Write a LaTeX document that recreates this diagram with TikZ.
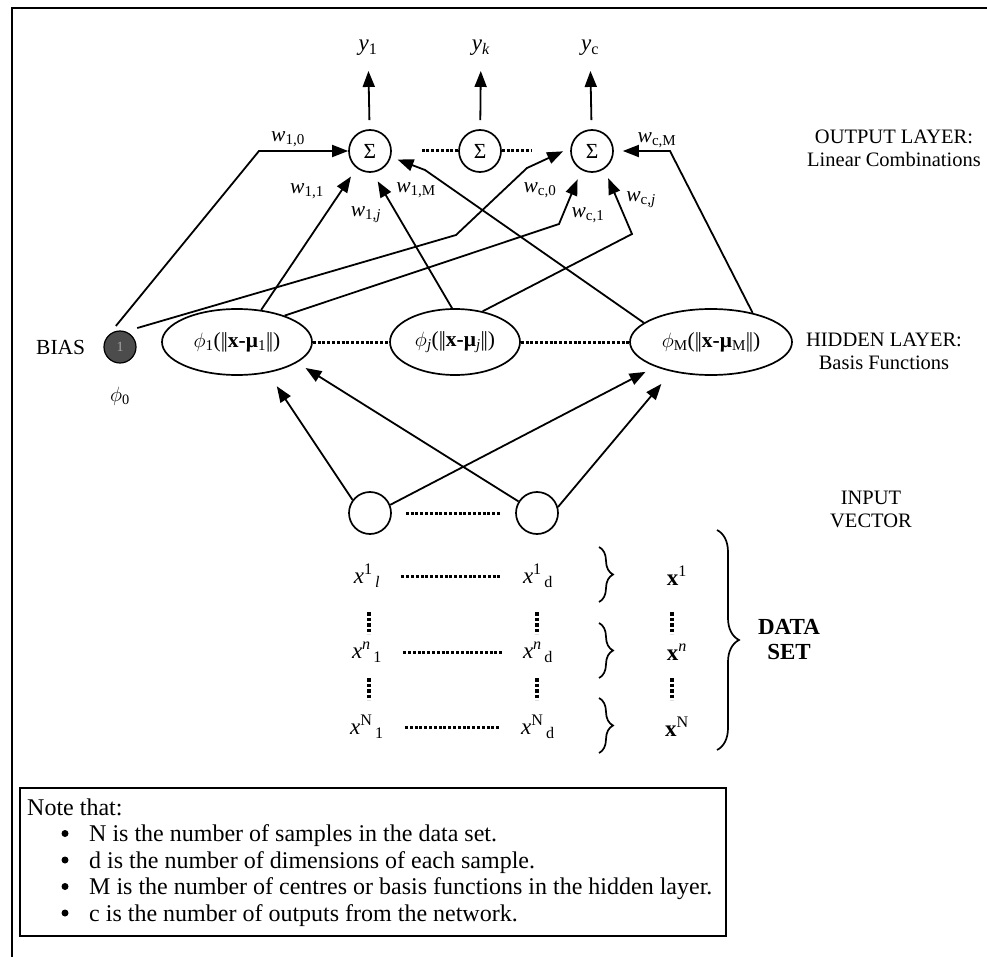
\documentclass[tikz,border=0pt]{standalone}
\usepackage{fontspec}
\setmainfont{Liberation Serif}
\usetikzlibrary{arrows.meta,positioning,shapes.geometric,decorations.pathreplacing}

\tikzset{
  sum/.style={circle, draw, line width=1.7pt, minimum size=42pt, inner sep=0pt, font=\fontsize{21.5}{24}\selectfont},
  basis/.style={ellipse, draw, line width=1.7pt, inner sep=0pt, minimum height=66pt, font=\fontsize{21.5}{24}\selectfont},
  input/.style={circle, draw, line width=1.7pt, minimum size=42pt, inner sep=0pt},
  biasnode/.style={circle, draw, line width=1.2pt, fill=black!70, text=black!35,
    minimum size=32pt, inner sep=0pt, font=\fontsize{14}{14}\selectfont},
  wire/.style={line width=1.8pt},
  arr/.style={wire, -{Triangle[length=16pt,width=12pt]}},
  dots/.style={line width=3pt, dash pattern=on 3pt off 1.8pt},
  vdots/.style={line width=3.8pt, dash pattern=on 3.5pt off 2pt},
  lbl/.style={inner sep=1pt},
  weight/.style={inner sep=0pt, font=\fontsize{21.5}{24}\selectfont},
  datatext/.style={inner sep=1pt, font=\fontsize{23}{26}\selectfont},
  databrace/.style={line width=1.7pt, decorate, decoration={brace, amplitude=#1}},
}

\newcommand{\wgt}[2]{\textit{w}\textsubscript{#1,#2}}
\newcommand{\basisfn}[2]{$\phi$\textsubscript{#1}(|\kern-1.5pt|\textbf{x-μ}\textsubscript{#2}|\kern-1.5pt|)}

\begin{document}
\begin{tikzpicture}[x=1pt, y=-1pt, font=\fontsize{20.5}{23}\selectfont]
  \useasboundingbox (0,0) rectangle (987,957);
  \draw[line width=1.6pt] (12,962) -- (12,8) -- (992,8);

  % output layer
  \node[sum] (s1) at (370,151) {Σ};
  \node[sum] (sk) at (480,151) {Σ};
  \node[sum] (sc) at (592,151) {Σ};
  \node[datatext] (y1) at (368,48) {\textit{y}\textsubscript{1}};
  \node[datatext] (yk) at (481,48) {\textit{y}\textsubscript{\textit{k}}};
  \node[datatext] (yc) at (590,48) {\textit{y}\textsubscript{c}};
  \foreach \n/\y in {s1/y1, sk/yk, sc/yc}
    \draw[arr, shorten <=9pt, shorten >=14pt] (\n) -- (\y);
  \draw[dots] (sk.west) -- ++(-36,0);
  \draw[dots] (sk.east) -- ++(30,0);

  % hidden layer
  \node[biasnode] (bias) at (120,347) {1};
  \node[lbl, left=17pt of bias, font=\fontsize{21.5}{24}\selectfont] (biaslbl) {BIAS};
  \node[lbl, below=22pt of bias] (phi0) {$\phi$\textsubscript{0}};
  \node[basis, minimum width=150pt] (h1) at (237,342) {\basisfn{1}{1}};
  \node[basis, minimum width=130pt] (hj) at (455,342) {\basisfn{\textit{j}}{\textit{j}}};
  \node[basis, minimum width=162pt] (hM) at (711,342) {\basisfn{M}{M}};
  \draw[dots] (h1) -- (hj);
  \draw[dots] (hj) -- (hM);

  % input layer
  \node[input] (i1) at (370,513) {};
  \node[input] (i2) at (537,513) {};
  \draw[dots, shorten <=14pt, shorten >=14pt] (i1) -- (i2);
  \draw[arr, shorten >=16pt] (i1.143) -- (h1.-45);
  \draw[arr, shorten >=11pt] (i1.22) -- (hM.204);
  \draw[arr, shorten >=10pt] (i2.148) -- (h1.-19);
  \draw[arr, shorten >=16pt] (i2.16) -- (hM.217);

  % weights into the first output
  \coordinate (c10) at (259,151);
  \coordinate (c1M) at (425,170);
  \draw[arr, shorten <=12pt] (bias.135) -- (c10) -- (s1);
  \draw[arr, shorten >=10pt] (h1.53) -- (s1.232);
  \draw[arr, shorten >=10pt] (hj.95) -- (s1.-83);
  \draw[arr, shorten >=7pt] (hM.164) -- (c1M) -- (s1.-16);
  \node[weight] (w10) at (288,139) {\wgt{1}{0}};
  \node[weight] (w11) at (307,191) {\wgt{1}{1}};
  \node[weight] (w1j) at (366,215) {\wgt{1}{\textit{j}}};
  \node[weight] (w1M) at (416,190) {\wgt{1}{M}};

  % weights into the last output
  \coordinate (c0a) at (456,235);
  \coordinate (c0b) at (527,168);
  \coordinate (cc1) at (559,224);
  \coordinate (ccj) at (632,234);
  \coordinate (ccM) at (670,151);
  \draw[arr, shorten <=12pt, shorten >=8pt] (bias.70) -- (c0a) -- (c0b) -- (sc.172);
  \draw[arr, shorten >=10pt] (h1.29) -- (cc1) -- (sc.241);
  \draw[arr, shorten >=10pt] (hj.48) -- (ccj) -- (sc.-56);
  \draw[arr, shorten >=9pt] (hM.35) -- (ccM) -- (sc.east);
  \node[weight] (wc0) at (540,190) {\wgt{c}{0}};
  \node[weight] (wc1) at (588,215) {\wgt{c}{1}};
  \node[weight] (wcj) at (641,200) {\wgt{c}{\textit{j}}};
  \node[weight] (wcM) at (657,140) {\wgt{c}{M}};

  % layer names
  \node[lbl, align=center] (outlbl) at (894,148) {OUTPUT LAYER:\\Linear Combinations};
  \node[lbl, align=center] (hidlbl) at (884,351) {HIDDEN LAYER:\\Basis Functions};
  \node[lbl, align=center] (inlbl) at (871,509) {INPUT\\VECTOR};

  % data set
  \foreach \s/\l/\yy [count=\r] in {1/\textit{l}/576, \textit{n}/1/652, N/1/727} {
    \node[datatext] (xa\r) at (367,\yy) {\textit{x}\textsuperscript{\s}\textsubscript{\,\l}};
    \node[datatext] (xd\r) at (538,\yy) {\textit{x}\textsuperscript{\s}\textsubscript{\,d}};
    \node[datatext] (xv\r) at (677,\yy) {\textbf{x}\textsuperscript{\s}};
    \draw[dots, shorten <=20pt, shorten >=20pt] (xa\r) -- (xd\r);
    \draw[databrace=14pt] (599,{\yy-29}) -- (599,{\yy+26});
  }
  \foreach \xx in {369,537,672} {
    \draw[vdots] (\xx,612) -- (\xx,634);
    \draw[vdots] (\xx,678) -- (\xx,700);
  }
  \draw[databrace=22pt] (717,530) -- (717,750);
  \node[lbl, align=center, font=\fontsize{23}{25}\selectfont\bfseries] (datalbl) at (789,640) {DATA\\SET};

  % note
  \draw[line width=1.8pt] (20,788) rectangle (726,936);
  \begin{scope}[font=\fontsize{24}{27}\selectfont]
    \node[anchor=base west, inner sep=0pt] (notehead) at (27,815) {Note that:};
    \foreach \t [count=\i] in {N is the number of samples in the data set.,
        d is the number of dimensions of each sample.,
        M is the number of centres or basis functions in the hidden layer.,
        c is the number of outputs from the network.} {
      \fill (65,{807+26.5*\i}) circle (3.5);
      \node[anchor=base west, inner sep=0pt] (note\i) at (89,{815+26.5*\i}) {\t};
    }
  \end{scope}
\end{tikzpicture}
\end{document}
